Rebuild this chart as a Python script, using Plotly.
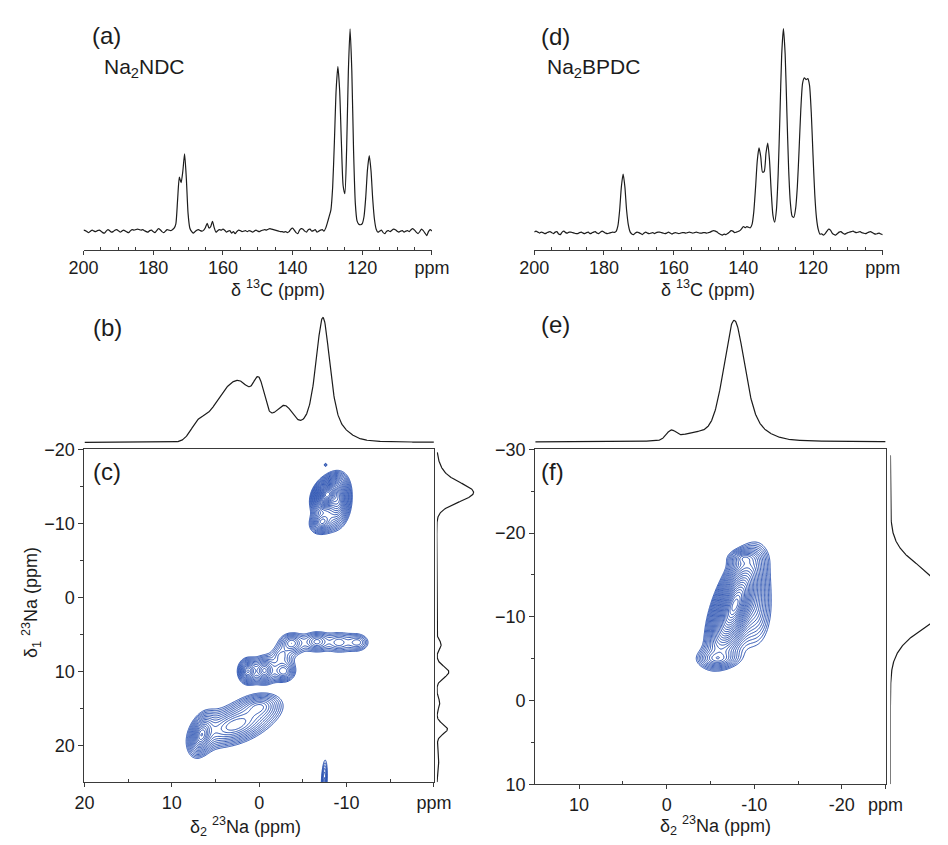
import numpy as np
import plotly.graph_objects as go

W, H = 948, 845
FONT = "Liberation Sans, Arial, Helvetica, sans-serif"
INK = "#1c1c1c"
AXIS = "#3a3a3a"
BLUE = "#2850b0"

# ---------------- 13C spectra (peak position ppm, height, gaussian sigma ppm) ----------------
NDC_C13_PPM = [172.5, 171.0, 164.5, 163.0, 129.5, 127.0, 123.5, 121.0, 118.0]
NDC_C13_HEIGHT = [52, 78, 5, 9, 10, 168, 205, 6, 76]
NDC_C13_SIGMA = [0.5, 0.58, 0.35, 0.4, 0.6, 0.9, 0.72, 1.5, 0.76]
# baseline ripple, 200 -> 100 ppm in 0.5 ppm steps
NDC_C13_NOISE = [
    0.5, 0.0, -1.0, -2.0, -0.5, 0.5, -0.5, -1.0, 0.0, 0.5,
    -0.5, -2.0, -2.5, -0.5, 1.0, 0.0, -1.5, -1.0, 0.5, 1.0,
    0.0, -1.5, -0.5, 0.5, -0.5, -1.5, -2.0, 0.0, 1.0, 0.5,
    1.0, 1.5, 1.0, 0.5, 1.0, 0.0, -1.0, -1.5, 0.0, 0.5,
    -1.0, -2.0, 0.0, 2.0, 1.0, -1.0, -2.0, -0.5, 1.0, 0.5,
    0.0, 1.0, 2.0, 0.0, 0.0, 0.0, 0.0, 0.0, 0.0, 0.0,
    0.0, 0.0, -1.0, -2.5, -1.0, 0.5, 1.0, 0.0, -0.5, 0.5,
    1.5, 2.5, 0.5, 0.0, 0.5, -1.0, -2.0, 0.0, 1.0, 0.5,
    1.5, 0.5, -1.5, -0.5, 0.0, -2.5, -1.0, -3.0, -1.0, 0.5,
    0.0, -1.0, -0.5, 0.0, -1.0, 0.0, -0.5, -1.5, -0.5, 0.5,
    -0.5, -1.0, 0.0, 0.5, 1.0, 0.5, 1.5, 2.0, 1.5, 1.0,
    0.5, 0.0, -0.5, -1.0, -1.0, -1.5, -1.0, -2.0, -1.0, 1.5,
    2.5, 0.5, -2.0, -3.0, 0.5, 2.0, 1.5, -0.5, -1.5, 1.0,
    1.5, -0.5, 0.0, 1.0, -1.5, -0.5, 0.5, 1.0, -1.0, 0.0,
    0.5, 1.0, 0.0, 0.0, 0.0, 0.0, 0.0, 0.0, 0.0, 0.0,
    0.0, 0.0, 0.0, 0.0, 0.0, 0.0, 0.0, 0.0, 0.0, 0.0,
    0.0, 0.0, 0.0, 0.0, 0.0, 0.0, 0.0, 0.5, -1.0, -2.0,
    -0.5, 0.5, -2.0, -3.0, -0.5, 0.0, -1.0, 0.5, 1.5, 1.0,
    -0.5, -1.5, -0.5, 0.0, -1.5, -0.5, 0.0, -1.0, 1.0, 2.0,
    0.5, -1.5, -3.0, -1.0, 1.5, 0.0, -2.5, -5.0, -1.0, 1.0,
    -0.5,
]

BPDC_C13_PPM = [174.5, 139.0, 135.5, 133.0, 128.5, 125.5, 123.0, 121.0]
BPDC_C13_HEIGHT = [60, 6, 86, 90, 208, 10, 136, 136]
BPDC_C13_SIGMA = [0.72, 0.9, 0.89, 0.81, 0.95, 1.4, 0.95, 0.95]
BPDC_C13_NOISE = [
    0.5, 1.5, 0.5, -0.5, 0.5, 0.0, -1.0, -0.5, 0.5, 1.0,
    0.0, -1.0, 0.5, 1.0, -1.5, -2.0, 0.5, 1.5, 0.0, -0.5,
    0.5, 0.5, 0.0, -0.5, -1.0, -1.0, 0.0, 0.5, -0.5, -1.0,
    0.0, 0.5, -1.0, -0.5, 0.5, 1.0, -0.5, -1.0, 0.5, 1.5,
    0.5, -0.5, -1.0, -0.5, 0.0, 0.5, 0.0, 0.0, 0.0, 0.0,
    0.0, 0.0, 0.0, 0.0, 1.0, -0.5, -1.5, -2.0, -0.5, 0.5,
    0.0, -1.0, -2.0, -0.5, 0.5, -0.5, -1.0, -0.5, 0.0, -1.0,
    0.0, 0.5, 0.5, 0.0, -0.5, -1.0, -0.5, 0.5, -0.5, -1.5,
    -0.5, 0.0, -0.5, -1.0, -0.5, 0.0, 0.0, -0.5, 0.0, 0.5,
    0.0, -0.5, 0.0, 0.5, 0.0, -0.5, -0.5, 0.0, 0.0, -0.5,
    0.0, 0.5, 1.5, 2.0, 1.5, 0.5, -1.0, -2.0, -2.5, -1.5,
    -2.0, -1.0, 0.5, 2.0, 1.5, 0.0, 0.5, 1.0, 1.5, 2.5,
    3.0, 0.0, 0.0, 0.0, 0.0, 0.0, 0.0, 0.0, 0.0, 0.0,
    0.0, 0.0, 0.0, 0.0, 0.0, 0.0, 0.0, 0.0, 0.0, 0.0,
    0.0, 0.0, 0.0, 0.0, 0.0, 0.0, 0.0, 0.0, 0.0, 0.0,
    0.0, 0.0, 0.0, 0.0, 0.0, 0.0, 0.0, 0.0, 0.0, 0.0,
    0.0, 0.0, 0.0, -1.0, -2.5, -1.5, -2.5, -1.0, 1.5, 3.5,
    2.5, -0.5, -2.0, -2.5, -1.0, 0.5, 1.0, -0.5, -1.5, -1.0,
    0.0, 0.5, 1.0, 1.5, 0.5, 0.0, 0.5, 1.0, 0.0, -0.5,
    -1.0, -0.5, 0.5, 1.0, 0.0, -1.0, -1.5, -1.0, -0.5, -1.5,
    -2.0,
]

C13_TICKS = [200, 180, 160, 140, 120, 100]
C13_TICKTEXT = ["200", "180", "160", "140", "120", "ppm"]
C13_MINOR = [195, 190, 185, 175, 170, 165, 155, 150, 145, 135, 130, 125, 115, 110, 105]

# ---------------- 23Na F2 projections (gaussian + lorentzian components) ----------------
NDC_F2_PPM = [7.0, 4.6, 2.0, 0.0, -1.8, -3.1, -5.5, -9.0, -7.3]
NDC_F2_HEIGHT = [16, 30, 56, 34, 18, 22, 12, 8, 61]
NDC_F2_SIGMA = [0.9, 1.4, 1.6, 0.6, 1.2, 0.9, 1.3, 1.3, 0.807]
NDC_F2_LOR = [(-7.3, 59, 0.95)]

BPDC_F2_PPM = [-0.5, -3.0, -10.3, -7.7]
BPDC_F2_HEIGHT = [9, 6, 6, 77]
BPDC_F2_SIGMA = [0.55, 1.5, 1.6, 1.23]
BPDC_F2_LOR = [(-7.7, 46, 1.45)]

# ---------------- 23Na F1 projections ----------------
NDC_F1_PPM = [-16.3, -14.1, 6.4, 10.1, 14.3, 17.8, 22.0]
NDC_F1_HEIGHT = [6, 36, 4.5, 12.5, 3, 11, 2]
NDC_F1_SIGMA = [1.5, 1.25, 0.6, 0.75, 0.7, 0.65, 1.5]

BPDC_F1_PPM = [-12.2]
BPDC_F1_HEIGHT = [66]
BPDC_F1_SIGMA = [3.1]

# ---------------- 2D MQMAS correlation peaks ----------------
# centre (delta2, delta1), half-extent at the lowest contour (delta2, delta1), tilt, amplitude, site group
NDC_2D_D2 = [-7.8, -9.0, -7.2, -7.6, 6.6, 2.8, 0.0, 1.3, -0.6, -2.8, -3.7, -6.6, -9.1, -11.3, -2.5, -7.45]
NDC_2D_D1 = [-13.9, -13.0, -10.2, -17.9, 18.6, 17.3, 14.8, 10.0, 9.9, 10.0, 6.2, 6.0, 6.1, 6.1, 7.9, 24.8]
NDC_2D_EXT2 = [2.0, 1.6, 1.4, 0.15, 1.4, 4.3, 2.0, 1.2, 1.2, 1.3, 1.3, 1.3, 1.0, 1.1, 0.6, 0.35]
NDC_2D_EXT1 = [2.7, 3.6, 1.6, 0.2, 2.8, 3.0, 1.5, 1.8, 1.8, 1.4, 1.3, 1.2, 1.0, 1.0, 0.7, 2.8]
NDC_2D_RHO = [0.3, 0.1, 0.2, 0.0, 0.35, 0.45, 0.2, 0.0, 0.0, 0.0, 0.0, 0.0, 0.0, 0.0, 0.0, 0.3]
NDC_2D_AMP = [34, 8, 5, 1.4, 7, 5, 3, 6, 5, 3.5, 3.0, 2.8, 1.9, 2.1, 1.5, 2.2]
NDC_2D_SITE = [0, 0, 0, 1, 2, 2, 2, 3, 3, 3, 3, 3, 3, 3, 3, 4]

BPDC_2D_D2 = [-7.8, -10.2, -5.8, -8.8]
BPDC_2D_D1 = [-11.4, -11.0, -5.0, -17.0]
BPDC_2D_EXT2 = [3.5, 1.6, 2.0, 1.4]
BPDC_2D_EXT1 = [7.0, 4.0, 1.0, 0.8]
BPDC_2D_RHO = [0.6, 0.0, 0.0, 0.0]
BPDC_2D_AMP = [40, 2.5, 3, 3]
BPDC_2D_SITE = [0, 0, 0, 0]

NA_X_TICKS_NDC = [20, 10, 0, -10, -20]
NA_X_TEXT_NDC = ["20", "10", "0", "-10", "ppm"]
NA_Y_TICKS_NDC = [-20, -10, 0, 10, 20]
NA_X_TICKS_BPDC = [10, 0, -10, -20, -25]
NA_X_TEXT_BPDC = ["10", "0", "-10", "-20", "ppm"]
NA_Y_TICKS_BPDC = [-30, -20, -10, 0, 10]


def gauss_sum(x, centers, heights, sigmas):
    x = np.asarray(x, dtype=float)[:, None]
    c = np.asarray(centers, dtype=float)
    h = np.asarray(heights, dtype=float)
    s = np.asarray(sigmas, dtype=float)
    return (h * np.exp(-0.5 * ((x - c) / s) ** 2)).sum(axis=1)


def lor_sum(x, peaks):
    x = np.asarray(x, dtype=float)
    out = np.zeros_like(x)
    for c, h, g in peaks:
        out += h / (1 + ((x - c) / g) ** 2)
    return out


def peaks2d(xg, yg, cx, cy, ex, ey, rho, amp, site):
    """Tilted peaks with a smooth top and exponential fall-off.
    Widths are the half-extent where a lone peak drops to level 1.
    Peaks of one site add up; separate sites are combined by their envelope."""
    X, Y = np.meshgrid(xg, yg)
    sites = {}
    for a, b, e1, e2, r, A, s in zip(cx, cy, ex, ey, rho, amp, site):
        r0 = np.sqrt((1 + np.log(A)) ** 2 - 1)
        u = (X - a) / (e1 / r0)
        v = (Y - b) / (e2 / r0)
        q = (u * u - 2 * r * u * v + v * v) / (1 - r * r)
        sites[s] = sites.get(s, 0) + A * np.exp(1 - np.sqrt(1 + q))
    return np.max(np.stack(list(sites.values())), axis=0)


def px(x):
    return x / W


def py(y):
    return 1 - y / H


# 13C traces on a 0.5 ppm grid
c13_ppm = np.round(200 - 0.5 * np.arange(201), 2)
ndc_c13 = gauss_sum(c13_ppm, NDC_C13_PPM, NDC_C13_HEIGHT, NDC_C13_SIGMA) + np.asarray(NDC_C13_NOISE)
bpdc_c13 = gauss_sum(c13_ppm, BPDC_C13_PPM, BPDC_C13_HEIGHT, BPDC_C13_SIGMA) + np.asarray(BPDC_C13_NOISE)

# 23Na projections
f2_ndc = np.round(np.linspace(20, -20, 801), 3)
proj_f2_ndc = gauss_sum(f2_ndc, NDC_F2_PPM, NDC_F2_HEIGHT, NDC_F2_SIGMA) + lor_sum(f2_ndc, NDC_F2_LOR)
f2_bpdc = np.round(np.linspace(15, -25, 801), 3)
proj_f2_bpdc = gauss_sum(f2_bpdc, BPDC_F2_PPM, BPDC_F2_HEIGHT, BPDC_F2_SIGMA) + lor_sum(f2_bpdc, BPDC_F2_LOR)
f1_ndc = np.round(np.linspace(-19.6, 25, 893), 3)
proj_f1_ndc = gauss_sum(f1_ndc, NDC_F1_PPM, NDC_F1_HEIGHT, NDC_F1_SIGMA)
f1_bpdc = np.round(np.linspace(-29.3, 10, 787), 3)
proj_f1_bpdc = gauss_sum(f1_bpdc, BPDC_F1_PPM, BPDC_F1_HEIGHT, BPDC_F1_SIGMA)

# 2D maps, contoured on a log scale so that levels are geometric
g2_ndc = np.round(np.arange(-14.5, 10.501, 0.1), 2)
g1_ndc = np.round(np.arange(-20.0, 25.001, 0.1), 2)
z_ndc = np.round(np.log(peaks2d(g2_ndc, g1_ndc, NDC_2D_D2, NDC_2D_D1, NDC_2D_EXT2, NDC_2D_EXT1,
                                NDC_2D_RHO, NDC_2D_AMP, NDC_2D_SITE) + 1e-4), 3)
g2_bpdc = np.round(np.arange(-14.0, -0.5 + 0.001, 0.1), 2)
g1_bpdc = np.round(np.arange(-23.0, 0.0 + 0.001, 0.1), 2)
z_bpdc = np.round(np.log(peaks2d(g2_bpdc, g1_bpdc, BPDC_2D_D2, BPDC_2D_D1, BPDC_2D_EXT2, BPDC_2D_EXT1,
                                 BPDC_2D_RHO, BPDC_2D_AMP, BPDC_2D_SITE) + 1e-4), 3)

line_kw = dict(color=INK, width=1.2)
fig = go.Figure()
fig.add_trace(go.Scatter(x=c13_ppm, y=ndc_c13, mode="lines", line=dict(shape="spline", smoothing=0.6, **line_kw), xaxis="x", yaxis="y", hoverinfo="skip"))
fig.add_trace(go.Scatter(x=c13_ppm, y=bpdc_c13, mode="lines", line=dict(shape="spline", smoothing=0.6, **line_kw), xaxis="x2", yaxis="y2", hoverinfo="skip"))
fig.add_trace(go.Scatter(x=f2_ndc, y=proj_f2_ndc, mode="lines", line=line_kw, xaxis="x3", yaxis="y3", hoverinfo="skip"))
fig.add_trace(go.Scatter(x=f2_bpdc, y=proj_f2_bpdc, mode="lines", line=line_kw, xaxis="x4", yaxis="y4", hoverinfo="skip"))
fig.add_trace(go.Contour(x=g2_ndc, y=g1_ndc, z=z_ndc, xaxis="x5", yaxis="y5", showscale=False, hoverinfo="skip",
                         contours=dict(coloring="none", start=0.0, end=4.0, size=0.15),
                         line=dict(color=BLUE, width=1.0)))
fig.add_trace(go.Contour(x=g2_bpdc, y=g1_bpdc, z=z_bpdc, xaxis="x6", yaxis="y6", showscale=False, hoverinfo="skip",
                         contours=dict(coloring="none", start=0.0, end=4.0, size=0.15),
                         line=dict(color=BLUE, width=1.0)))
fig.add_trace(go.Scatter(x=proj_f1_ndc, y=f1_ndc, mode="lines", line=line_kw, xaxis="x7", yaxis="y5", hoverinfo="skip"))
fig.add_trace(go.Scatter(x=proj_f1_bpdc, y=f1_bpdc, mode="lines", line=line_kw, xaxis="x8", yaxis="y6", hoverinfo="skip"))

tickfont = dict(family=FONT, size=18, color=INK)
common = dict(showgrid=False, zeroline=False, showline=True, linecolor=AXIS, linewidth=1.3,
              tickcolor=AXIS, tickwidth=1.1, tickfont=tickfont, fixedrange=True)
hidden = dict(visible=False, fixedrange=True, showgrid=False, zeroline=False)

fig.update_layout(
    width=W, height=H, margin=dict(l=0, r=0, t=0, b=0),
    paper_bgcolor="white", plot_bgcolor="rgba(0,0,0,0)", showlegend=False,
    font=dict(family=FONT, color=INK),
    xaxis=dict(domain=[px(71), px(432)], range=[200, 100], anchor="y", ticks="outside", ticklen=4,
               tickvals=C13_TICKS, ticktext=C13_TICKTEXT, ticklabelstandoff=-3,
               minor=dict(tickvals=C13_MINOR, ticks="inside", ticklen=3, tickcolor=AXIS, tickwidth=1), **common),
    yaxis=dict(domain=[py(246), 1.0], range=[-20, 226], anchor="x", **hidden),
    xaxis2=dict(domain=[px(538), px(899)], range=[200, 100], anchor="y2", ticks="outside", ticklen=4,
                tickvals=C13_TICKS, ticktext=C13_TICKTEXT, ticklabelstandoff=-3,
                minor=dict(tickvals=C13_MINOR, ticks="inside", ticklen=3, tickcolor=AXIS, tickwidth=1), **common),
    yaxis2=dict(domain=[py(246), 1.0], range=[-18, 228], anchor="x2", **hidden),
    xaxis3=dict(domain=[px(72), px(434)], range=[20, -20], anchor="y3", **hidden),
    yaxis3=dict(domain=[py(449), py(295)], range=[-6, 148], anchor="x3", **hidden),
    xaxis4=dict(domain=[px(539), px(902)], range=[15, -25], anchor="y4", **hidden),
    yaxis4=dict(domain=[py(449), py(295)], range=[-6.5, 147.5], anchor="x4", **hidden),
    xaxis5=dict(domain=[px(72), px(434)], range=[20, -20], anchor="y5", mirror=True, ticks="outside", ticklen=4,
                tickvals=NA_X_TICKS_NDC, ticktext=NA_X_TEXT_NDC, ticklabelstandoff=0,
                minor=dict(tickvals=[15, 5, -5, -15], ticks="inside", ticklen=3, tickcolor=AXIS, tickwidth=1), **common),
    yaxis5=dict(domain=[py(791), py(450)], range=[25, -20], anchor="x5", mirror=True, ticks="outside", ticklen=5,
                tickvals=NA_Y_TICKS_NDC,
                minor=dict(tickvals=[-15, -5, 5, 15], ticks="outside", ticklen=3, tickcolor=AXIS, tickwidth=1), **common),
    xaxis6=dict(domain=[px(539), px(902)], range=[15, -25], anchor="y6", mirror=True, ticks="outside", ticklen=4,
                tickvals=NA_X_TICKS_BPDC, ticktext=NA_X_TEXT_BPDC, ticklabelstandoff=0,
                minor=dict(tickvals=[5, -5, -15], ticks="inside", ticklen=3, tickcolor=AXIS, tickwidth=1), **common),
    yaxis6=dict(domain=[py(793), py(450)], range=[10, -30], anchor="x6", mirror=True, ticks="outside", ticklen=5,
                tickvals=NA_Y_TICKS_BPDC,
                minor=dict(tickvals=[-25, -15, -5, 5], ticks="outside", ticklen=3, tickcolor=AXIS, tickwidth=1), **common),
    xaxis7=dict(domain=[px(437), px(520)], range=[0, 83], anchor="y5", **hidden),
    xaxis8=dict(domain=[px(907), 1.0], range=[0, 41], anchor="y6", **hidden),
)


def label(text, x, y, size, xanchor="left", angle=0):
    fig.add_annotation(text=text, x=px(x), y=py(y), xref="paper", yref="paper", showarrow=False,
                       xanchor=xanchor, yanchor="middle", textangle=angle,
                       font=dict(family=FONT, size=size, color=INK))


label("(a)", 78, 26, 24)
label("Na<sub>2</sub>NDC", 90, 59, 21)
label("(d)", 543, 27, 24)
label("Na<sub>2</sub>BPDC", 549, 59, 21)
label("(b)", 79, 325, 24)
label("(c)", 79, 473, 24)
label("(e)", 543, 322, 24)
label("(f)", 543, 473, 24)
label("δ <sup>13</sup>C (ppm)", 272, 285, 18, xanchor="center")
label("δ <sup>13</sup>C (ppm)", 718, 285, 18, xanchor="center")
label("δ<sub>2</sub> <sup>23</sup>Na (ppm)", 239, 836, 18, xanchor="center")
label("δ<sub>2</sub> <sup>23</sup>Na (ppm)", 726, 835, 18, xanchor="center")
label("δ<sub>1</sub> <sup>23</sup>Na (ppm)", 17, 607, 18, xanchor="center", angle=-90)

fig.write_html("out.html")
